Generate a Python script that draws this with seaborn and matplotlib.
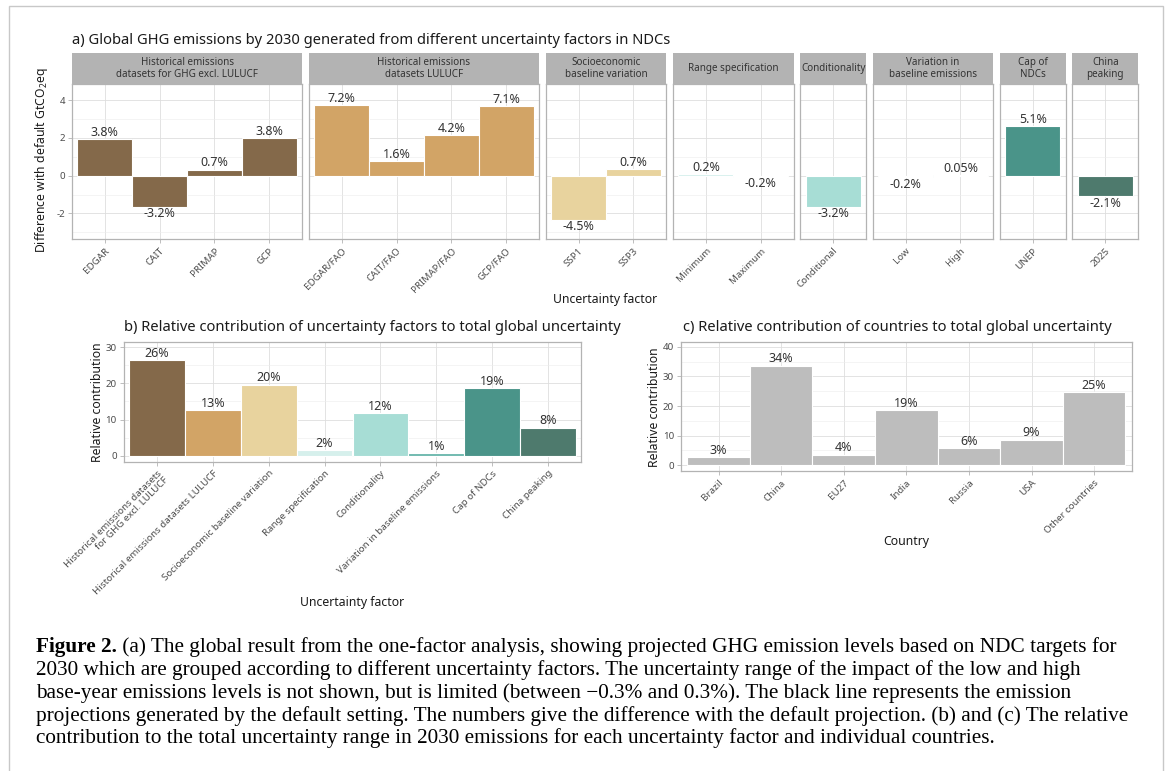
import numpy as np
import pandas as pd
import matplotlib
matplotlib.use("Agg")
import matplotlib.pyplot as plt
import seaborn as sns
from matplotlib.patches import Rectangle
from matplotlib.ticker import MultipleLocator

# ---------------- data ----------------
facet_titles = [
    "Historical emissions\ndatasets for GHG excl. LULUCF",
    "Historical emissions\ndatasets LULUCF",
    "Socioeconomic\nbaseline variation",
    "Range specification",
    "Conditionality",
    "Variation in\nbaseline emissions",
    "Cap of\nNDCs",
    "China\npeaking",
]
cats_hist = ["EDGAR", "CAIT", "PRIMAP", "GCP"]
vals_hist = [1.95, -1.66, 0.32, 1.98]
labs_hist = ["3.8%", "-3.2%", "0.7%", "3.8%"]
cats_lulucf = ["EDGAR/FAO", "CAIT/FAO", "PRIMAP/FAO", "GCP/FAO"]
vals_lulucf = [3.73, 0.78, 2.14, 3.67]
labs_lulucf = ["7.2%", "1.6%", "4.2%", "7.1%"]
cats_ssp = ["SSP1", "SSP3"]
vals_ssp = [-2.35, 0.33]
labs_ssp = ["-4.5%", "0.7%"]
cats_range = ["Minimum", "Maximum"]
vals_range = [0.06, -0.07]
labs_range = ["0.2%", "-0.2%"]
cats_cond = ["Conditional"]
vals_cond = [-1.64]
labs_cond = ["-3.2%"]
cats_base = ["Low", "High"]
vals_base = [-0.09, 0.02]
labs_base = ["-0.2%", "0.05%"]
cats_cap = ["UNEP"]
vals_cap = [2.61]
labs_cap = ["5.1%"]
cats_china = ["2025"]
vals_china = [-1.09]
labs_china = ["-2.1%"]

factor_names = [
    "Historical emissions datasets\nfor GHG excl. LULUCF",
    "Historical emissions datasets LULUCF",
    "Socioeconomic baseline variation",
    "Range specification",
    "Conditionality",
    "Variation in baseline emissions",
    "Cap of NDCs",
    "China peaking",
]
factor_values = [26.3, 12.7, 19.6, 1.6, 11.7, 0.75, 18.7, 7.8]
factor_labels = ["26%", "13%", "20%", "2%", "12%", "1%", "19%", "8%"]

countries = ["Brazil", "China", "EU27", "India", "Russia", "USA", "Other countries"]
country_values = [2.7, 33.6, 3.6, 18.7, 5.75, 8.7, 24.7]
country_labels = ["3%", "34%", "4%", "19%", "6%", "9%", "25%"]

# ---------------- style ----------------
factor_colors = ["#84694a", "#d2a466", "#e8d39e", "#d6f0ec",
                 "#a7ddd5", "#8ccfc5", "#4a9489", "#4e7a6d"]
factor_colors_b = ["#84694a", "#d2a466", "#e8d39e", "#d6f0ec",
                   "#a7ddd5", "#6db9ae", "#4a9489", "#4e7a6d"]
country_color = "#bdbdbd"

plt.rcParams["font.family"] = ["Noto Sans", "DejaVu Sans"]
plt.rcParams["axes.unicode_minus"] = False
plt.rcParams["mathtext.fontset"] = "custom"
plt.rcParams["mathtext.rm"] = "Noto Sans"

W, H = 1171, 771
fig = plt.figure(figsize=(W / 100, H / 100), dpi=100)


def add_ax(x0, y0, x1, y1):
    return fig.add_axes([x0 / W, 1 - y1 / H, (x1 - x0) / W, (y1 - y0) / H])


GRID = "#dedede"
MINOR = "#ededed"
BORDER = "#b3b3b3"
TICKC = "#4d4d4d"
TXT = "#1a1a1a"
TITLE_SIZE = 10.6
AXT_SIZE = 8.8
BAR_LAB = 9.0
TICK_SIZE = 7.0


def style_ax(ax, minor_step):
    ax.set_facecolor("white")
    ax.set_axisbelow(True)
    ax.yaxis.set_minor_locator(MultipleLocator(minor_step))
    ax.grid(which="major", color=GRID, lw=0.6)
    ax.grid(which="minor", axis="y", color=MINOR, lw=0.4)
    ax.tick_params(which="minor", length=0)
    ax.tick_params(which="major", length=3, color=BORDER, width=0.6,
                   labelsize=TICK_SIZE, labelcolor=TICKC, pad=2)
    for s in ax.spines.values():
        s.set_color(BORDER)
        s.set_linewidth(0.9)
    ax.set_xlabel("")
    ax.set_ylabel("")


def label_bars(ax, vals, labs, size):
    for i, (v, lab) in enumerate(zip(vals, labs)):
        if v >= 0:
            ax.annotate(lab, (i, v), xytext=(0, 0.2), textcoords="offset points",
                        ha="center", va="bottom", fontsize=size, color="#333333")
        else:
            ax.annotate(lab, (i, v), xytext=(0, -0.2), textcoords="offset points",
                        ha="center", va="top", fontsize=size, color="#333333")


# ---------------- panel a ----------------
facet_cats = [cats_hist, cats_lulucf, cats_ssp, cats_range, cats_cond, cats_base, cats_cap, cats_china]
facet_vals = [vals_hist, vals_lulucf, vals_ssp, vals_range, vals_cond, vals_base, vals_cap, vals_china]
facet_labs = [labs_hist, labs_lulucf, labs_ssp, labs_range, labs_cond, labs_base, labs_cap, labs_china]

unit, gap = 54.8, 6.7
xa = 72.0
top_strip, top_panel, bot_panel = 53.3, 84.0, 239.3
for k in range(len(facet_titles)):
    cats, vals, labs = facet_cats[k], facet_vals[k], facet_labs[k]
    n = len(cats)
    w = (n + 0.2) * unit
    ax = add_ax(xa, top_panel, xa + w, bot_panel)
    df = pd.DataFrame({"cat": cats, "val": vals})
    sns.barplot(data=df, x="cat", y="val", order=cats, color=factor_colors[k],
                saturation=1, width=1.0, edgecolor="white", linewidth=0.8,
                errorbar=None, ax=ax)
    style_ax(ax, 1)
    ax.set_xlim(-0.6, n - 0.4)
    ax.set_ylim(-3.37, 4.85)
    ax.set_yticks([-2, 0, 2, 4])
    ax.set_xticks(range(n))
    ax.set_xticklabels(cats, rotation=45, ha="right", rotation_mode="anchor")
    if k > 0:
        ax.tick_params(axis="y", which="both", length=0, labelleft=False)
    label_bars(ax, vals, labs, BAR_LAB)
    # strip
    fig.add_artist(Rectangle((xa / W, 1 - top_panel / H), w / W,
                             (top_panel - top_strip) / H, transform=fig.transFigure,
                             facecolor="#b3b3b3", edgecolor="none"))
    fig.text((xa + w / 2) / W, 1 - (top_strip + top_panel) / 2 / H, facet_titles[k],
             ha="center", va="center", fontsize=7.1, color="#333333",
             linespacing=1.05)
    xa += w + gap

fig.text(72 / W, 1 - 41 / H,
         "a) Global GHG emissions by 2030 generated from different uncertainty factors in NDCs",
         ha="left", va="center", fontsize=TITLE_SIZE, color=TXT)
fig.text(42 / W, 1 - 160 / H, "Difference with default GtCO$_\\mathregular{2}$eq",
         rotation=90, ha="center", va="center", fontsize=AXT_SIZE, color=TXT)
fig.text(605 / W, 1 - 300 / H, "Uncertainty factor", ha="center", va="center",
         fontsize=AXT_SIZE, color=TXT)

# ---------------- panel b ----------------
axb = add_ax(123.6, 342.3, 581.4, 461.7)
dfb = pd.DataFrame({"factor": factor_names, "value": factor_values})
sns.barplot(data=dfb, x="factor", y="value", order=factor_names, hue="factor",
            palette=dict(zip(factor_names, factor_colors_b)), legend=False,
            saturation=1, width=1.0, edgecolor="white", linewidth=0.8,
            errorbar=None, ax=axb)
style_ax(axb, 5)
axb.set_xlim(-0.6, len(factor_names) - 0.4)
axb.set_ylim(-1.6, 31.3)
axb.set_yticks([0, 10, 20, 30])
axb.set_xticks(range(len(factor_names)))
axb.set_xticklabels(factor_names, rotation=45, ha="right", rotation_mode="anchor",
                    multialignment="right", linespacing=1.0)
label_bars(axb, factor_values, factor_labels, BAR_LAB)
fig.text(124 / W, 1 - 327 / H,
         "b) Relative contribution of uncertainty factors to total global uncertainty",
         ha="left", va="center", fontsize=TITLE_SIZE, color=TXT)
fig.text(97.5 / W, 1 - 402 / H, "Relative contribution", rotation=90,
         ha="center", va="center", fontsize=AXT_SIZE, color=TXT)
fig.text(352.5 / W, 1 - 602.7 / H, "Uncertainty factor", ha="center", va="center",
         fontsize=AXT_SIZE, color=TXT)

# ---------------- panel c ----------------
axc = add_ax(681, 342.3, 1131.7, 471.3)
dfc = pd.DataFrame({"country": countries, "value": country_values})
sns.barplot(data=dfc, x="country", y="value", order=countries, color=country_color,
            saturation=1, width=1.0, edgecolor="white", linewidth=0.8,
            errorbar=None, ax=axc)
style_ax(axc, 5)
axc.set_xlim(-0.6, len(countries) - 0.4)
axc.set_ylim(-2.03, 41.5)
axc.set_yticks([0, 10, 20, 30, 40])
axc.set_xticks(range(len(countries)))
axc.set_xticklabels(countries, rotation=45, ha="right", rotation_mode="anchor")
label_bars(axc, country_values, country_labels, BAR_LAB)
fig.text(683 / W, 1 - 327 / H,
         "c) Relative contribution of countries to total global uncertainty",
         ha="left", va="center", fontsize=TITLE_SIZE, color=TXT)
fig.text(654 / W, 1 - 407 / H, "Relative contribution", rotation=90,
         ha="center", va="center", fontsize=AXT_SIZE, color=TXT)
fig.text(906 / W, 1 - 542 / H, "Country", ha="center", va="center",
         fontsize=AXT_SIZE, color=TXT)

# ---------------- frame and caption ----------------
fig.add_artist(Rectangle((9 / W, -0.05), (1163 - 9) / W, 1 - 6 / H + 0.05,
                         transform=fig.transFigure, fill=False,
                         edgecolor="#c8c8c8", lw=1.0))

cap_lines = [
    " (a) The global result from the one-factor analysis, showing projected GHG emission levels based on NDC targets for",
    "2030 which are grouped according to different uncertainty factors. The uncertainty range of the impact of the low and high",
    "base-year emissions levels is not shown, but is limited (between \u22120.3% and 0.3%). The black line represents the emission",
    "projections generated by the default setting. The numbers give the difference with the default projection. (b) and (c) The relative",
    "contribution to the total uncertainty range in 2030 emissions for each uncertainty factor and individual countries.",
]
serif = ["Liberation Serif", "DejaVu Serif"]
renderer = fig.canvas.get_renderer()
x0 = 36
target_w = 1128 - x0
probe = fig.text(0, 0, cap_lines[3], fontsize=13.4, family=serif)
pw = probe.get_window_extent(renderer).width
probe.remove()
cap_size = 13.4 * target_w / pw

baselines = [652, 675, 698, 721, 743]
t0 = fig.text(x0 / W, 1 - baselines[0] / H, "Figure 2.", ha="left", va="baseline",
              fontsize=cap_size, fontweight="bold", family=serif, color="black")
bb = t0.get_window_extent(renderer)
fig.text(bb.x1 / W, 1 - baselines[0] / H, cap_lines[0], ha="left", va="baseline",
         fontsize=cap_size, family=serif, color="black")
for line, yb in zip(cap_lines[1:], baselines[1:]):
    fig.text(x0 / W, 1 - yb / H, line, ha="left", va="baseline",
             fontsize=cap_size, family=serif, color="black")

fig.savefig("out.png", dpi=100, facecolor="white")
